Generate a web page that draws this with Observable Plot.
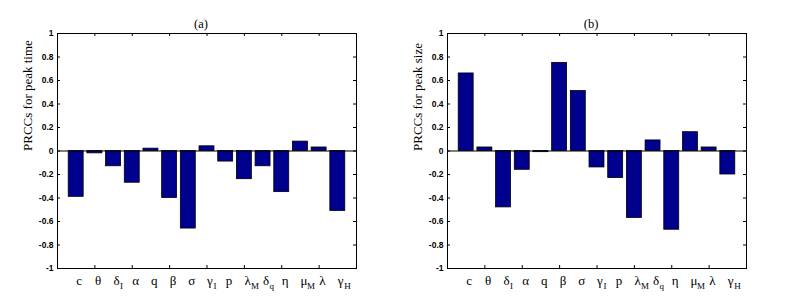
<!DOCTYPE html>
<html>
<head>
<meta charset="utf-8">
<script src="https://cdn.jsdelivr.net/npm/d3@7"></script>
<script src="https://cdn.jsdelivr.net/npm/@observablehq/plot@0.6"></script>
<style>
  html, body { margin: 0; padding: 0; background: #fff; }
  #wrap { display: flex; width: 790px; height: 302px; }
  #wrap svg { display: block; }
</style>
</head>
<body>
<div id="wrap"></div>
<script>
// Parameter symbols and subscripts (x tick labels)
const paramSymbols = ["c", "θ", "δ", "α", "q", "β", "σ", "γ", "p", "λ", "δ", "η", "μ", "λ", "γ"];
const paramSubs    = ["",  "",  "I", "",  "",  "",  "",  "I", "",  "M", "q", "",  "M", "",  "H"];
// PRCC values
const peakTime = [-0.39, -0.02, -0.13, -0.27, 0.02, -0.40, -0.66, 0.04, -0.09, -0.24, -0.13, -0.35, 0.08, 0.03, -0.51];
const peakSize = [0.66, 0.03, -0.48, -0.16, -0.01, 0.75, 0.51, -0.14, -0.23, -0.57, 0.09, -0.67, 0.16, 0.03, -0.20];
// Axis ticks
const yTicks = [-1, -0.8, -0.6, -0.4, -0.2, 0, 0.2, 0.4, 0.6, 0.8, 1];
const yTickLabels = ["-1", "-0.8", "-0.6", "-0.4", "-0.2", "0", "0.2", "0.4", "0.6", "0.8", "1"];
const xTicks = [2, 4, 6, 8, 10, 12, 14];
const panelTitles = ["(a)", "(b)"];
const yLabels = ["PRCCs for peak time", "PRCCs for peak size"];

const serif = "'Liberation Serif', 'Times New Roman', serif";
const sans = "'Liberation Sans', Arial, sans-serif";

function panel(values, title, ylabel, width) {
  const H = 302, mt = 33, mb = 34, ml = 57, mr = width - 57 - 299;
  const fw = width - ml - mr, fh = H - mt - mb;
  const data = values.map((v, k) => ({i: k + 1, v, sym: paramSymbols[k], sub: paramSubs[k]}));
  return Plot.plot({
    width, height: H,
    marginTop: mt, marginBottom: mb, marginLeft: ml, marginRight: mr,
    x: {domain: [0, 16], axis: null},
    y: {domain: [-1, 1], axis: null},
    style: {fontFamily: sans, background: "white", color: "black"},
    marks: [
      Plot.rectY(data, {x1: d => d.i - 0.4, x2: d => d.i + 0.4, y1: 0, y2: "v", fill: "#00008f", stroke: "black", strokeWidth: 0.8}),
      Plot.ruleY([0], {stroke: "black", strokeWidth: 1}),
      Plot.frame({stroke: "black", strokeWidth: 1}),
      // inward ticks
      Plot.tickY(yTicks, {y: d => d, insetRight: fw - 3, stroke: "black"}),
      Plot.tickY(yTicks, {y: d => d, insetLeft: fw - 3, stroke: "black"}),
      Plot.tickX(xTicks, {x: d => d, insetTop: fh - 3, stroke: "black"}),
      Plot.tickX(xTicks, {x: d => d, insetBottom: fh - 3, stroke: "black"}),
      // y tick labels
      Plot.axisY(yTicks, {anchor: "left", tickSize: 0, tickPadding: 4, tickFormat: (d) => yTickLabels[yTicks.indexOf(d)], fontSize: 8.5, fontWeight: "bold", label: null}),
      // x tick labels
      Plot.text(data, {x: "i", y: -1, text: "sym", textAnchor: "start", lineAnchor: "bottom", dy: 16.5, fontFamily: serif, fontSize: 13}),
      Plot.text(data, {x: "i", y: -1, text: "sub", textAnchor: "start", lineAnchor: "bottom", dx: 6.5, dy: 20.5, fontFamily: serif, fontSize: 9}),
      // title
      Plot.text([title], {frameAnchor: "top", lineAnchor: "bottom", dy: -6, dx: -6, fontFamily: serif, fontSize: 12.5}),
      // y label
      Plot.text([ylabel], {frameAnchor: "left", rotate: -90, dx: -30, fontFamily: serif, fontSize: 13})
    ]
  });
}

const wrap = document.getElementById("wrap");
wrap.appendChild(panel(peakTime, panelTitles[0], yLabels[0], 390));
wrap.appendChild(panel(peakSize, panelTitles[1], yLabels[1], 400));
</script>
</body>
</html>
